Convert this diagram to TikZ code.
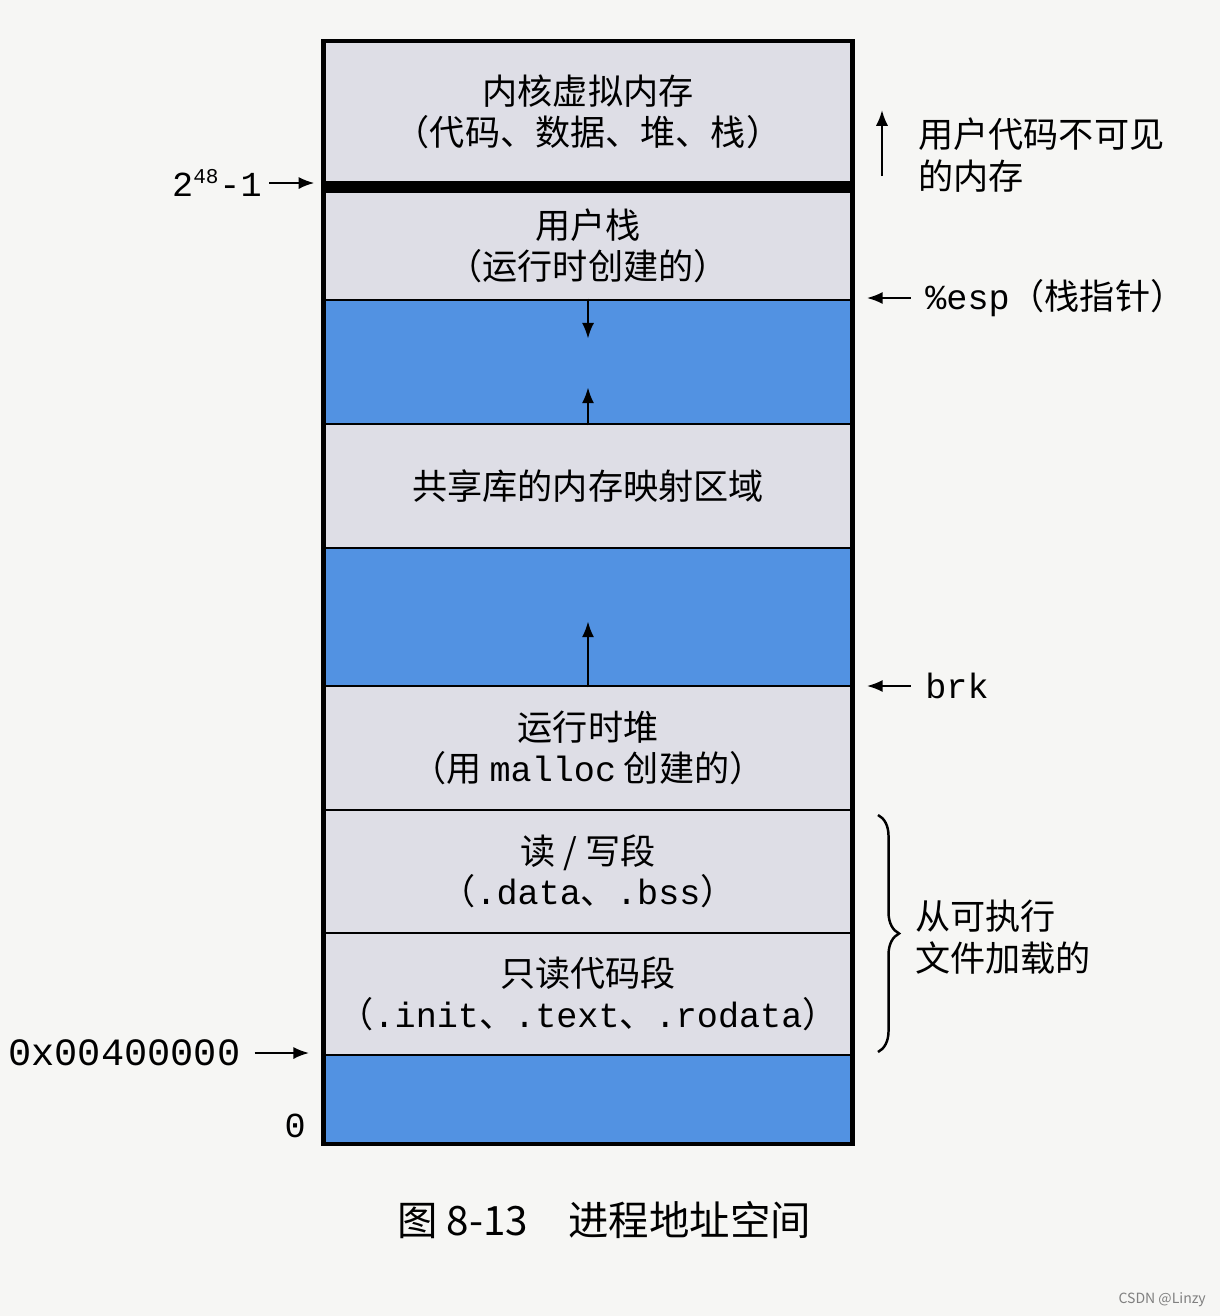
\documentclass[tikz,border=0pt]{standalone}
\usepackage{fontspec}
\setmainfont{Noto Sans CJK SC}
\setmonofont{Liberation Mono}
\usetikzlibrary{decorations.pathreplacing,arrows.meta}
\definecolor{segg}{RGB}{222,222,230}
\definecolor{segb}{RGB}{82,146,226}
\definecolor{paper}{RGB}{246,246,244}
\tikzset{
  seg/.style={draw=black,line width=1.6pt,fill=segg,minimum width=10.54cm,inner sep=0pt,align=center,font=\fontsize{20}{23}\selectfont},
  gap/.style={seg,fill=segb},
  lbl/.style={font=\fontsize{20}{24}\selectfont,inner sep=0pt},
  arr/.style={-{Latex[length=9pt,width=7pt]},line width=1.3pt}
}
\begin{document}
\begin{tikzpicture}[x=0.02cm,y=-0.02cm]
                \fill[paper] (0,0) rectangle (1220,1316);
                \useasboundingbox (0,0) rectangle (1220,1316);
                %% segments
                \node[seg,minimum height=2.8cm] (kern) at (588,112) {内核虚拟内存\\（代码、数据、堆、栈）};
                \node[seg,fill=black,minimum height=0.2cm] (band) at (588,187) {};
                \node[seg,minimum height=2.16cm] (ustack) at (588,246) {用户栈\\（运行时创建的）};
                \node[gap,minimum height=2.48cm] (gapa) at (588,362) {};
                \node[seg,minimum height=2.48cm] (shlib) at (588,486) {共享库的内存映射区域};
                \node[gap,minimum height=2.76cm] (gapb) at (588,617) {};
                \node[seg,minimum height=2.48cm] (heap) at (588,748) {运行时堆\\（用 \texttt{malloc} 创建的）};
                \node[seg,minimum height=2.46cm] (rwseg) at (588,871.5) {读 / 写段\\（\texttt{.data}、\texttt{.bss}）};
                \node[seg,minimum height=2.44cm] (roseg) at (588,994) {只读代码段\\（\texttt{.init}、\texttt{.text}、\texttt{.rodata}）};
                \node[gap,minimum height=1.76cm] (gapc) at (588,1099) {};
                \draw[line width=2pt] (kern.north west) rectangle (gapc.south east);
                %% growth arrows
                \draw[arr] (gapa.north) -- ++(0,40);
                \draw[arr] (gapa.south) -- ++(0,-38);
                \draw[arr] (gapb.south) -- ++(0,-66);
                %% left labels
                \node[lbl,anchor=east] (topaddr) at (262,183) {\texttt{2\textsuperscript{\fontsize{12}{12}\selectfont 48}-1}};
                \draw[arr,shorten <=4pt,shorten >=5pt] (topaddr.east) -- (topaddr.east -| band.west);
                \node[lbl,anchor=west,font=\fontsize{22}{24}\selectfont] (textaddr) at (8,1053) {\texttt{0x00400000}};
                \draw[arr,shorten <=8pt,shorten >=8pt] (textaddr.east) -- (textaddr.east -| roseg.west);
                \node[lbl,anchor=east] (zero) at (306,1126) {\texttt{0}};
                %% right labels
                \node[lbl,anchor=west] (esp) at (925,298) {\texttt{\%esp}（栈指针）};
                \draw[arr,shorten <=8pt,shorten >=8pt] (esp.west) -- (esp.west -| ustack.east);
                \node[lbl,anchor=west] (brk) at (925,686) {\texttt{brk}};
                \draw[arr,shorten <=8pt,shorten >=8pt] (brk.west) -- (brk.west -| heap.east);
                \coordinate (kfoot) at (882,176);
                \draw[arr] (kfoot) -- ++(0,-66);
                \node[lbl,anchor=west,align=left] (hidden) at (918,155) {用户代码不可见\\的内存};
                \coordinate (brtop) at (878,815);
                \coordinate (brbot) at (878,1052);
                \draw[line width=1.4pt,decorate,decoration={brace,amplitude=12pt}] (brtop) -- (brbot);
                \node[lbl,anchor=west,align=left] (loaded) at (915,937) {从可执行\\文件加载的};
                %% caption
                \node[font=\fontsize{23}{26}\selectfont] (cap) at (604,1220) {图 8-13\quad 进程地址空间};
                \node[font=\fontsize{8}{9}\selectfont,text=gray,anchor=east] (mark) at (1212,1300) {CSDN @Linzy};
            \end{tikzpicture}
\end{document}
